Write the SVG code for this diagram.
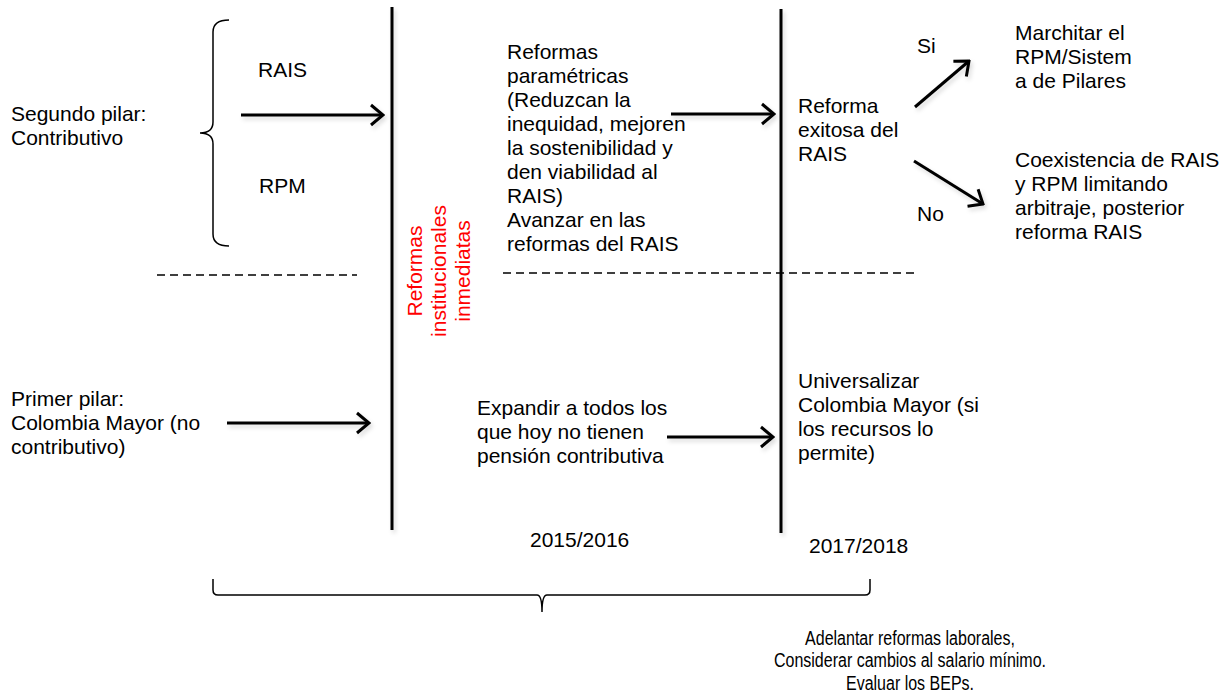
<svg xmlns="http://www.w3.org/2000/svg" width="1231" height="694" viewBox="0 0 1231 694">
<defs>
<style>
text{font-family:"Liberation Sans",Arial,sans-serif;font-size:21px;fill:#000}
.red{fill:#ff0000}
.narrow{font-size:20px}
.ln{stroke:#000;stroke-width:3;fill:none}
.arr{stroke:#000;stroke-width:3;fill:none;marker-end:url(#ah)}
.dash{stroke:#000;stroke-width:1.5;stroke-dasharray:8 5;fill:none}
.brace{stroke:#000;stroke-width:1.5;fill:none}
</style>
<marker id="ah" viewBox="0 0 16 24" refX="14" refY="12" markerWidth="16" markerHeight="24" markerUnits="userSpaceOnUse" orient="auto">
<path d="M2,2 L14,12 L2,22" fill="none" stroke="#000" stroke-width="3"/>
</marker>
<filter id="sh" filterUnits="userSpaceOnUse" x="0" y="0" width="1231" height="694">
<feDropShadow dx="2" dy="3" stdDeviation="2" flood-color="#000" flood-opacity="0.15"/>
</filter>
</defs>
<rect width="1231" height="694" fill="#fff"/>

<g id="connectors">
<line class="ln" x1="392" y1="7" x2="392" y2="530" filter="url(#sh)"/>
<line class="ln" x1="781" y1="9" x2="781" y2="533" filter="url(#sh)"/>
<line class="dash" x1="157" y1="275" x2="357" y2="275"/>
<line class="dash" x1="503" y1="273" x2="915" y2="273"/>
<path class="brace" d="M229,20 Q213,20 213,32 L213,122 Q213,133 200,133 Q213,133 213,144 L213,234 Q213,246 229,246"/>
<path class="brace" d="M213,579 L213,590 Q213,595 218,595 L537,595 Q542,595 542,612 Q542,595 547,595 L865,595 Q870,595 870,590 L870,579"/>
<line class="arr" x1="241" y1="115" x2="383" y2="115" filter="url(#sh)"/>
<line class="arr" x1="671" y1="114" x2="774" y2="114" filter="url(#sh)"/>
<line class="arr" x1="915" y1="107" x2="969" y2="61" filter="url(#sh)"/>
<line class="arr" x1="914" y1="161" x2="983" y2="204" filter="url(#sh)"/>
<line class="arr" x1="227" y1="423" x2="369" y2="423" filter="url(#sh)"/>
<line class="arr" x1="667" y1="437" x2="773" y2="437" filter="url(#sh)"/>
</g>

<g id="segundo-pilar"><text x="11" y="121">Segundo pilar:</text><text x="11" y="145">Contributivo</text></g>
<g id="rais"><text x="258" y="77">RAIS</text></g>
<g id="rpm"><text x="259" y="193">RPM</text></g>
<g id="primer-pilar"><text x="11" y="406">Primer pilar:</text><text x="11" y="430">Colombia Mayor (no</text><text x="11" y="454">contributivo)</text></g>
<g id="reformas-inst"><text class="red" text-anchor="middle" transform="translate(422,271) rotate(-90)">Reformas</text><text class="red" text-anchor="middle" transform="translate(446,271) rotate(-90)">institucionales</text><text class="red" text-anchor="middle" transform="translate(470,271) rotate(-90)">inmediatas</text></g>
<g id="reformas-param"><text x="507" y="59">Reformas</text><text x="507" y="83">paramétricas</text><text x="507" y="107">(Reduzcan la</text><text x="507" y="131">inequidad, mejoren</text><text x="507" y="155">la sostenibilidad y</text><text x="507" y="179">den viabilidad al</text><text x="507" y="203">RAIS)</text><text x="507" y="227">Avanzar en las</text><text x="507" y="251">reformas del RAIS</text></g>
<g id="reforma-exitosa"><text x="798" y="113">Reforma</text><text x="798" y="137">exitosa del</text><text x="798" y="161">RAIS</text></g>
<g id="si"><text x="917" y="53">Si</text></g>
<g id="no"><text x="917" y="221">No</text></g>
<g id="marchitar"><text x="1015" y="40">Marchitar el</text><text x="1015" y="64">RPM/Sistem</text><text x="1015" y="88">a de Pilares</text></g>
<g id="coexistencia"><text x="1015" y="167">Coexistencia de RAIS</text><text x="1015" y="191">y RPM limitando</text><text x="1015" y="215">arbitraje, posterior</text><text x="1015" y="239">reforma RAIS</text></g>
<g id="expandir"><text x="477" y="415">Expandir a todos los</text><text x="477" y="439">que hoy no tienen</text><text x="477" y="463">pensión contributiva</text></g>
<g id="universalizar"><text x="798" y="388">Universalizar</text><text x="798" y="412">Colombia Mayor (si</text><text x="798" y="436">los recursos lo</text><text x="798" y="460">permite)</text></g>
<g id="y2015"><text x="530" y="547">2015/2016</text></g>
<g id="y2017"><text x="809" y="553">2017/2018</text></g>
<g id="adelantar" transform="translate(910,0) scale(0.8,1)"><text class="narrow" x="0" y="645" text-anchor="middle">Adelantar reformas laborales,</text><text class="narrow" x="0" y="667" text-anchor="middle">Considerar cambios al salario mínimo.</text><text class="narrow" x="0" y="690" text-anchor="middle">Evaluar los BEPs.</text></g>
</svg>
